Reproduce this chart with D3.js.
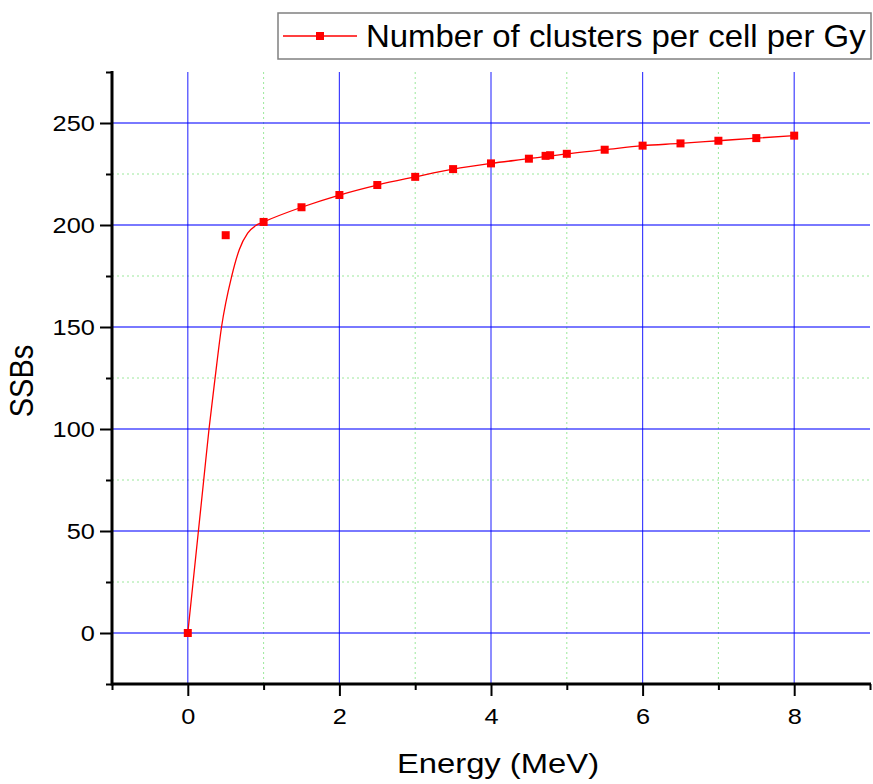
<!DOCTYPE html>
<html>
<head>
<meta charset="utf-8">
<script src="https://cdn.jsdelivr.net/npm/d3@7"></script>
<style>
  body { margin: 0; background: #fff; }
  svg { display: block; }
  text { font-family: "Liberation Sans", Arial, sans-serif; fill: #000; }
</style>
</head>
<body>
<svg id="chart" width="873" height="784"></svg>
<script>
// measured points (square markers)
const energy = [0, 0.5, 1, 1.5, 2, 2.5, 3, 3.5, 4, 4.5, 4.72, 4.78, 5, 5.5, 6, 6.5, 7, 7.5, 8];
const ssb = [0, 195, 201.5, 208.7, 214.7, 219.6, 223.6, 227.4, 230.2, 232.5, 233.9, 234.2, 234.9, 236.9, 238.9, 240, 241.3, 242.6, 243.8];

// fitted curve
const fitEnergy = [0, 0.14, 0.21, 0.28, 0.36, 0.445, 0.58, 0.68, 0.79, 0.9, 1, 1.5, 2, 2.5, 3, 3.5, 4, 4.5, 5, 5.5, 6, 6.5, 7, 7.5, 8];
const fitSsb = [0, 50, 75, 100, 125, 150, 175, 188, 196, 199.8, 201.5, 208.7, 214.7, 219.6, 223.6, 227.4, 230.2, 232.5, 234.9, 236.9, 238.9, 240, 241.3, 242.6, 243.8];

const xMajor = [0, 2, 4, 6, 8];
const xMinor = [-1, 1, 3, 5, 7, 9];
const yMajor = [0, 50, 100, 150, 200, 250];
const yMinor = [-25, 25, 75, 125, 175, 225, 275];

const seriesName = "Number of clusters per cell per Gy";
const xTitle = "Energy (MeV)";
const yTitle = "SSBs";

const svg = d3.select("#chart");
const plotL = 112, plotR = 870, plotT = 72, plotB = 684;
const sx = 1.15; // horizontal stretch of the text in the reference

const x = d3.scaleLinear().domain([-1, 9]).range([plotL, plotR]);
const y = d3.scaleLinear().domain([-25, 275]).range([plotB, plotT]);

// minor grid (green dotted)
const grid = svg.append("g");
grid.selectAll(".vmin").data(xMinor.filter(d => d > -1 && d < 9)).enter()
  .append("line")
  .attr("x1", d => x(d)).attr("x2", d => x(d))
  .attr("y1", plotT).attr("y2", plotB)
  .attr("stroke", "#9be89b").attr("stroke-width", 1).attr("stroke-dasharray", "2,3");
grid.selectAll(".hmin").data(yMinor.filter(d => d > -25 && d < 275)).enter()
  .append("line")
  .attr("x1", plotL).attr("x2", plotR)
  .attr("y1", d => y(d)).attr("y2", d => y(d))
  .attr("stroke", "#9be89b").attr("stroke-width", 1).attr("stroke-dasharray", "2,3");

// major grid (blue)
grid.selectAll(".vmaj").data(xMajor).enter()
  .append("line")
  .attr("x1", d => x(d)).attr("x2", d => x(d))
  .attr("y1", plotT).attr("y2", plotB)
  .attr("stroke", "#0000ff").attr("stroke-opacity", 0.75).attr("stroke-width", 1.2);
grid.selectAll(".hmaj").data(yMajor).enter()
  .append("line")
  .attr("x1", plotL).attr("x2", plotR)
  .attr("y1", d => y(d)).attr("y2", d => y(d))
  .attr("stroke", "#0000ff").attr("stroke-opacity", 0.7).attr("stroke-width", 1.5);

// fitted line
const line = d3.line()
  .x((d, i) => x(fitEnergy[i]))
  .y(d => y(d))
  .curve(d3.curveMonotoneX);
svg.append("path")
  .datum(fitSsb)
  .attr("d", line)
  .attr("fill", "none")
  .attr("stroke", "#ff0000")
  .attr("stroke-width", 1.3);

// markers
const ms = 8;
svg.append("g").selectAll("rect")
  .data(ssb).enter()
  .append("rect")
  .attr("x", (d, i) => x(energy[i]) - ms / 2)
  .attr("y", d => y(d) - ms / 2)
  .attr("width", ms).attr("height", ms)
  .attr("fill", "#ff0000");

// axes
const xAxis = svg.append("g").attr("transform", `translate(0,${plotB})`)
  .call(d3.axisBottom(x).tickValues(xMajor).tickSize(12).tickPadding(12).tickFormat(d3.format("d")));
const xAxisMinor = svg.append("g").attr("transform", `translate(0,${plotB})`)
  .call(d3.axisBottom(x).tickValues(xMinor).tickSize(6).tickFormat(""));
const yAxis = svg.append("g").attr("transform", `translate(${plotL},0)`)
  .call(d3.axisLeft(y).tickValues(yMajor).tickSize(12).tickPadding(3).tickFormat(d3.format("d")));
const yAxisMinor = svg.append("g").attr("transform", `translate(${plotL},0)`)
  .call(d3.axisLeft(y).tickValues(yMinor).tickSize(6).tickFormat(""));

[xAxis, xAxisMinor, yAxis, yAxisMinor].forEach(g => {
  g.select(".domain").remove();
  g.selectAll(".tick line").attr("stroke", "#000").attr("stroke-width", 2);
});
// axis lines drawn explicitly so they meet at the corner
svg.append("line").attr("x1", plotL).attr("x2", plotR + 1).attr("y1", plotB).attr("y2", plotB)
  .attr("stroke", "#000").attr("stroke-width", 3);
svg.append("line").attr("x1", plotL).attr("x2", plotL).attr("y1", plotT - 1).attr("y2", plotB + 1.5)
  .attr("stroke", "#000").attr("stroke-width", 3);

xAxis.selectAll(".tick text")
  .attr("font-size", 22)
  .attr("font-family", "Liberation Sans, Arial, sans-serif")
  .attr("transform", `scale(${sx},1)`);
yAxis.selectAll(".tick text")
  .attr("font-size", 22)
  .attr("font-family", "Liberation Sans, Arial, sans-serif")
  .attr("transform", `scale(${sx},1)`);

// axis titles
svg.append("text")
  .attr("transform", `translate(498,773) scale(${sx},1)`)
  .attr("text-anchor", "middle")
  .attr("font-size", 28.5)
  .text(xTitle);
svg.append("text")
  .attr("transform", `translate(33,381) scale(${sx},1) rotate(-90)`)
  .attr("text-anchor", "middle")
  .attr("font-size", 29)
  .text(yTitle);

// legend
const lg = svg.append("g");
lg.append("rect")
  .attr("x", 278).attr("y", 13).attr("width", 593).attr("height", 46)
  .attr("fill", "#fff").attr("stroke", "#808080").attr("stroke-width", 1.5);
lg.append("line")
  .attr("x1", 283).attr("x2", 357).attr("y1", 36).attr("y2", 36)
  .attr("stroke", "#ff0000").attr("stroke-width", 1.3);
lg.append("rect")
  .attr("x", 320 - ms / 2).attr("y", 36 - ms / 2).attr("width", ms).attr("height", ms)
  .attr("fill", "#ff0000");
lg.append("text")
  .attr("transform", `translate(366,47) scale(1.08,1)`)
  .attr("font-size", 30.5)
  .text(seriesName);
</script>
</body>
</html>
